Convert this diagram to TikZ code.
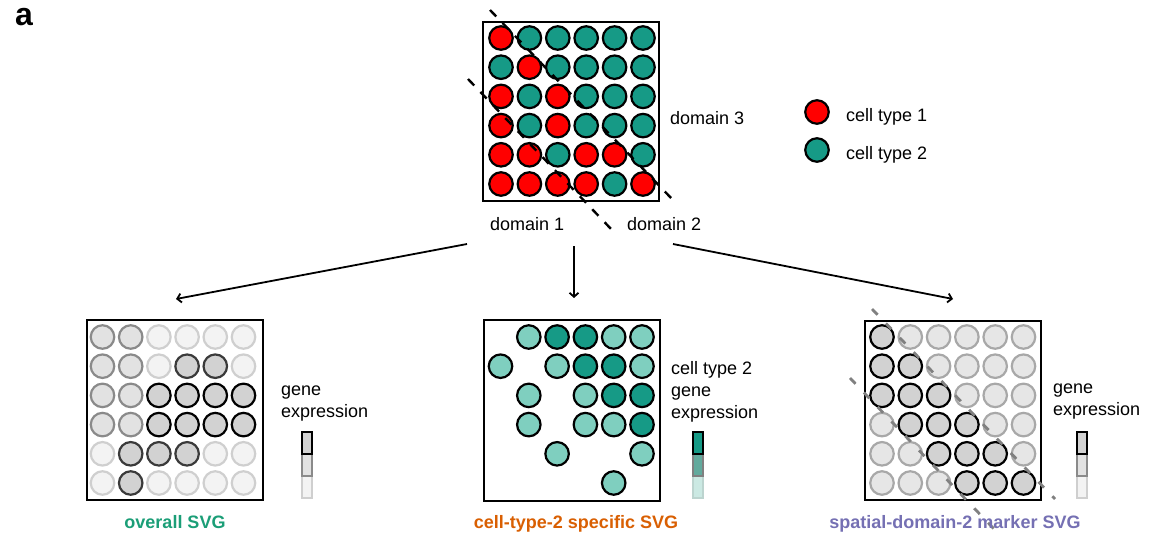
\documentclass[tikz,border=0pt]{standalone}
\usepackage{fontspec}
\setmainfont{Liberation Sans}
\usetikzlibrary{arrows.meta}
\definecolor{cred}{HTML}{FF0000}
\definecolor{cteal}{HTML}{169A86}
\definecolor{cteallt}{HTML}{7FCFBF}
\definecolor{fH}{HTML}{D2D2D2}
\definecolor{fM}{HTML}{E2E2E2}
\definecolor{dM}{HTML}{8A8A8A}
\definecolor{fL}{HTML}{F3F3F3}
\definecolor{dL}{HTML}{CFCFCF}
\definecolor{dD}{HTML}{3A3A3A}
\definecolor{fR}{HTML}{E6E6E6}
\definecolor{dR}{HTML}{A8A8A8}
\definecolor{tmid}{HTML}{62AA9D}
\definecolor{tlow}{HTML}{CBE9E3}
\definecolor{lgreen}{HTML}{1B9E77}
\definecolor{lorange}{HTML}{D95F02}
\definecolor{lpurple}{HTML}{7570B3}
\begin{document}
\begin{tikzpicture}[x=1pt,y=-1pt,
  cell/.style={circle,minimum size=23.5pt,inner sep=0pt,line width=2.2pt},
  ct1/.style={cell,draw=black,fill=cred},
  ct2/.style={cell,draw=black,fill=cteal},
  lvH/.style={cell,draw=black,fill=fH},
  lvD/.style={cell,draw=dD,fill=fH},
  lvM/.style={cell,draw=dM,fill=fM},
  lvL/.style={cell,draw=dL,fill=fL},
  lvR/.style={cell,draw=dR,fill=fR},
  mva/.style={cell,draw=black,fill=cteallt},
  mvb/.style={cell,draw=black,fill=cteal},
  box/.style={draw=black,line width=2.5pt},
  lab/.style={font=\fontsize{18}{22}\selectfont,inner sep=0pt,anchor=base west},
  title/.style={font=\bfseries\fontsize{18}{22}\selectfont,inner sep=0pt,anchor=base},
  arr/.style={line width=1.8pt,-{Straight Barb[length=4pt,width=9pt]}},
  blackdash/.style={line width=2.4pt,dash pattern=on 9pt off 9pt},
  graydash/.style={line width=2.8pt,draw=gray,dash pattern=on 8pt off 12pt},
]
\useasboundingbox (0,0) rectangle (1166,538);

\node[font=\bfseries\fontsize{32}{32}\selectfont,inner sep=0pt,anchor=base west] (panel) at (15,25) {a};

% ---------- top grid ----------
\draw[box] (483,22) rectangle (659,201);
\foreach \row [count=\j] in {{1,2,2,2,2,2},{2,1,2,2,2,2},{1,2,1,2,2,2},{1,2,1,2,2,2},{1,1,2,1,1,2},{1,1,1,1,2,1}}{
  \foreach \c [count=\i] in \row {
    \node[ct\c] (t-\i-\j) at ({501+(\i-1)*28.4},{38+(\j-1)*29.2}) {};
  }
}
\draw[blackdash] (490,10) -- (673,200);
\draw[blackdash] (468,79) -- (612,230);
\node[lab] (d3) at (670,124) {domain 3};
\node[lab] (d1) at (490,230) {domain 1};
\node[lab] (d2) at (627,230) {domain 2};

% legend
\node[ct1] (leg1) at (817,112) {};
\node[ct2] (leg2) at (817,150) {};
\node[lab] (leg1t) at (846,121) {cell type 1};
\node[lab] (leg2t) at (846,159) {cell type 2};

% ---------- arrows ----------
\coordinate (sL) at (467,244);
\coordinate (sM) at (574,246);
\coordinate (sR) at (673,244);
\coordinate (eL) at (176,299);
\coordinate (eM) at (574,298);
\coordinate (eR) at (953,299);
\draw[arr] (sL) -- (eL);
\draw[arr] (sM) -- (eM);
\draw[arr] (sR) -- (eR);

% ---------- bottom left ----------
\draw[box] (87,320) rectangle (263,500);
\foreach \row [count=\j] in {{M,M,L,L,L,L},{M,M,L,D,D,L},{M,M,H,H,H,H},{M,M,H,H,H,H},{L,D,D,D,L,L},{L,D,L,L,L,L}}{
  \foreach \c [count=\i] in \row {
    \node[lv\c] (l-\i-\j) at ({102.5+(\i-1)*28.2},{337+(\j-1)*29.2}) {};
  }
}
\node[lab] (lg1) at (281,395) {gene};
\node[lab] (lg2) at (281,417) {expression};
\draw[line width=2pt,draw=dL,fill=fL] (302,476) rectangle (312,498);
\draw[line width=2pt,draw=dM,fill=fM] (302,454) rectangle (312,476);
\draw[line width=2pt,draw=black,fill=fH] (302,432) rectangle (312,454);
\node[title,text=lgreen] (tl) at (175,528) {overall SVG};

% ---------- bottom middle ----------
\draw[box] (484,320) rectangle (660,501);
\foreach \row [count=\j] in {{0,a,b,b,a,a},{a,0,a,b,b,a},{0,a,0,a,b,b},{0,a,0,a,a,b},{0,0,a,0,0,a},{0,0,0,0,a,0}}{
  \foreach \c [count=\i] in \row {
    \if\c0\else
    \node[mv\c] (m-\i-\j) at ({500.5+(\i-1)*28.3},{337+(\j-1)*29.2}) {};
    \fi
  }
}
\node[lab] (mg0) at (671,374) {cell type 2};
\node[lab] (mg1) at (671,396) {gene};
\node[lab] (mg2) at (671,418) {expression};
\draw[line width=2pt,draw=tlow!80!gray,fill=tlow] (693,476) rectangle (703,498);
\draw[line width=2pt,draw=gray,fill=tmid] (693,454) rectangle (703,476);
\draw[line width=2pt,draw=black,fill=cteal] (693,432) rectangle (703,454);
\node[title,text=lorange] (tm) at (576,528) {cell-type-2 specific SVG};

% ---------- bottom right ----------
\draw[box] (865,321) rectangle (1041,500);
\foreach \row [count=\j] in {{H,R,R,R,R,R},{H,H,R,R,R,R},{H,H,H,R,R,R},{R,H,H,H,R,R},{R,R,H,H,H,R},{R,R,R,H,H,H}}{
  \foreach \c [count=\i] in \row {
    \node[lv\c] (r-\i-\j) at ({882+(\i-1)*28.3},{337+(\j-1)*29.2}) {};
  }
}
\draw[graydash] (872,309) -- (1055,499);
\draw[graydash] (850,378) -- (994,529);
\node[lab] (rg1) at (1053,393) {gene};
\node[lab] (rg2) at (1053,415) {expression};
\draw[line width=2pt,draw=dL,fill=fL] (1077,476) rectangle (1087,498);
\draw[line width=2pt,draw=dM,fill=fM] (1077,454) rectangle (1087,476);
\draw[line width=2pt,draw=black,fill=fH] (1077,432) rectangle (1087,454);
\node[title,text=lpurple] (tr) at (955,528) {spatial-domain-2 marker SVG};
\end{tikzpicture}
\end{document}
